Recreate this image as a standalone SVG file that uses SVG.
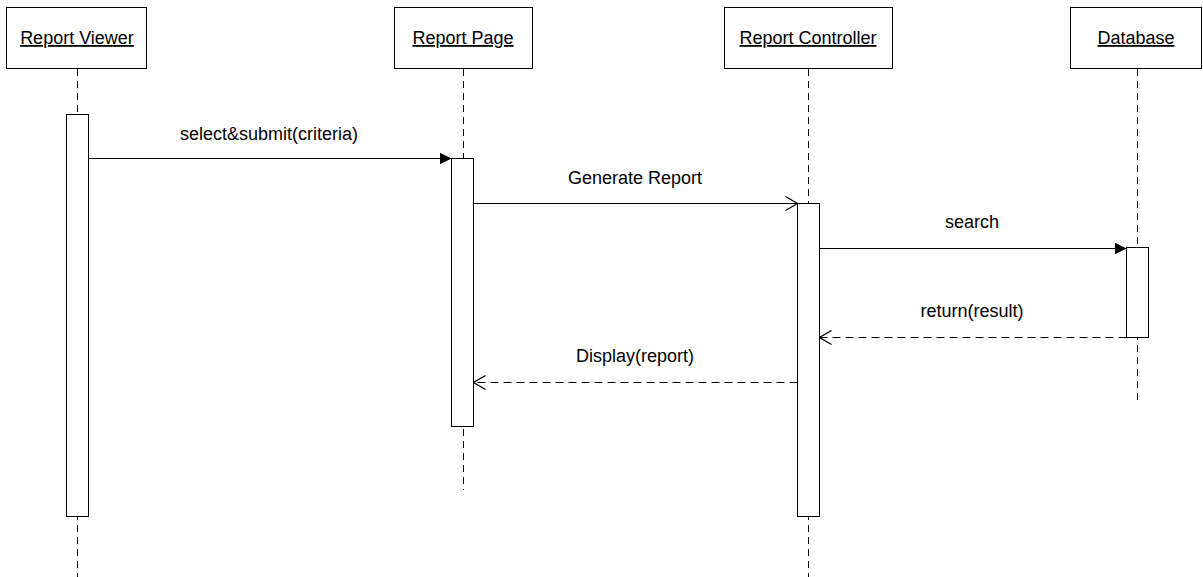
<svg xmlns="http://www.w3.org/2000/svg" width="1203" height="577" viewBox="0 0 1203 577">
  <style>
    .box { fill: #fff; stroke: #000; stroke-width: 1; }
    .life { fill: none; stroke: #000; stroke-width: 1; stroke-dasharray: 7 5; }
    .act { fill: #fff; stroke: #000; stroke-width: 1; }
    .title { font-family: "Liberation Sans", Arial, sans-serif; font-size: 18px; fill: #000; text-anchor: middle; text-decoration: underline; }
    .label { font-family: "Liberation Sans", Arial, sans-serif; font-size: 18px; fill: #000; text-anchor: middle; }
    .msg { fill: none; stroke: #000; stroke-width: 1; }
    .ret { fill: none; stroke: #000; stroke-width: 1; stroke-dasharray: 8 5; }
  </style>
  <defs>
    <marker id="filled" viewBox="0 0 12 12" refX="12" refY="6" markerWidth="12" markerHeight="12" markerUnits="userSpaceOnUse" orient="auto">
      <path d="M0,0 L12,6 L0,12 Z" fill="#000"/>
    </marker>
    <marker id="open" viewBox="0 0 14 16" refX="13" refY="8" markerWidth="14" markerHeight="16" markerUnits="userSpaceOnUse" orient="auto">
      <path d="M1,1 L13,8 L1,15" fill="none" stroke="#000" stroke-width="1.2"/>
    </marker>
  </defs>

  <rect width="1203" height="577" fill="#fff"/>

  <!-- lifelines -->
  <g id="lifelines">
    <line class="life" x1="77.5" y1="69" x2="77.5" y2="577"/>
    <line class="life" x1="463.5" y1="69" x2="463.5" y2="490"/>
    <line class="life" x1="808.5" y1="69" x2="808.5" y2="577"/>
    <line class="life" x1="1137.5" y1="69" x2="1137.5" y2="400"/>
  </g>

  <g id="report-viewer">
    <rect class="box" x="6.5" y="7.5" width="140" height="61"/>
    <text class="title" x="77" y="44">Report Viewer</text>
    <rect class="act" x="66.5" y="114.5" width="22" height="402"/>
  </g>

  <g id="report-page">
    <rect class="box" x="394.5" y="7.5" width="138" height="61"/>
    <text class="title" x="463" y="44">Report Page</text>
    <rect class="act" x="451.5" y="158.5" width="22" height="268"/>
  </g>

  <g id="report-controller">
    <rect class="box" x="724.5" y="7.5" width="168" height="61"/>
    <text class="title" x="808" y="44">Report Controller</text>
    <rect class="act" x="797.5" y="203.5" width="22" height="313"/>
  </g>

  <g id="database">
    <rect class="box" x="1070.5" y="7.5" width="131" height="61"/>
    <text class="title" x="1136" y="44">Database</text>
    <rect class="act" x="1126.5" y="247.5" width="22" height="90"/>
  </g>

  <!-- messages -->
  <g id="connectors">
    <line class="msg" x1="88.5" y1="158.5" x2="451.5" y2="158.5" marker-end="url(#filled)"/>
    <text class="label" x="269" y="140">select&amp;submit(criteria)</text>

    <line class="msg" x1="473.5" y1="203.5" x2="797.5" y2="203.5" marker-end="url(#open)"/>
    <text class="label" x="635" y="184">Generate Report</text>

    <line class="msg" x1="819.5" y1="248.5" x2="1126.5" y2="248.5" marker-end="url(#filled)"/>
    <text class="label" x="972" y="228">search</text>

    <line class="ret" x1="1126.5" y1="337.5" x2="819.5" y2="337.5" marker-end="url(#open)"/>
    <text class="label" x="972" y="317">return(result)</text>

    <line class="ret" x1="797.5" y1="382.5" x2="473.5" y2="382.5" marker-end="url(#open)"/>
    <text class="label" x="635" y="362">Display(report)</text>
  </g>
</svg>
